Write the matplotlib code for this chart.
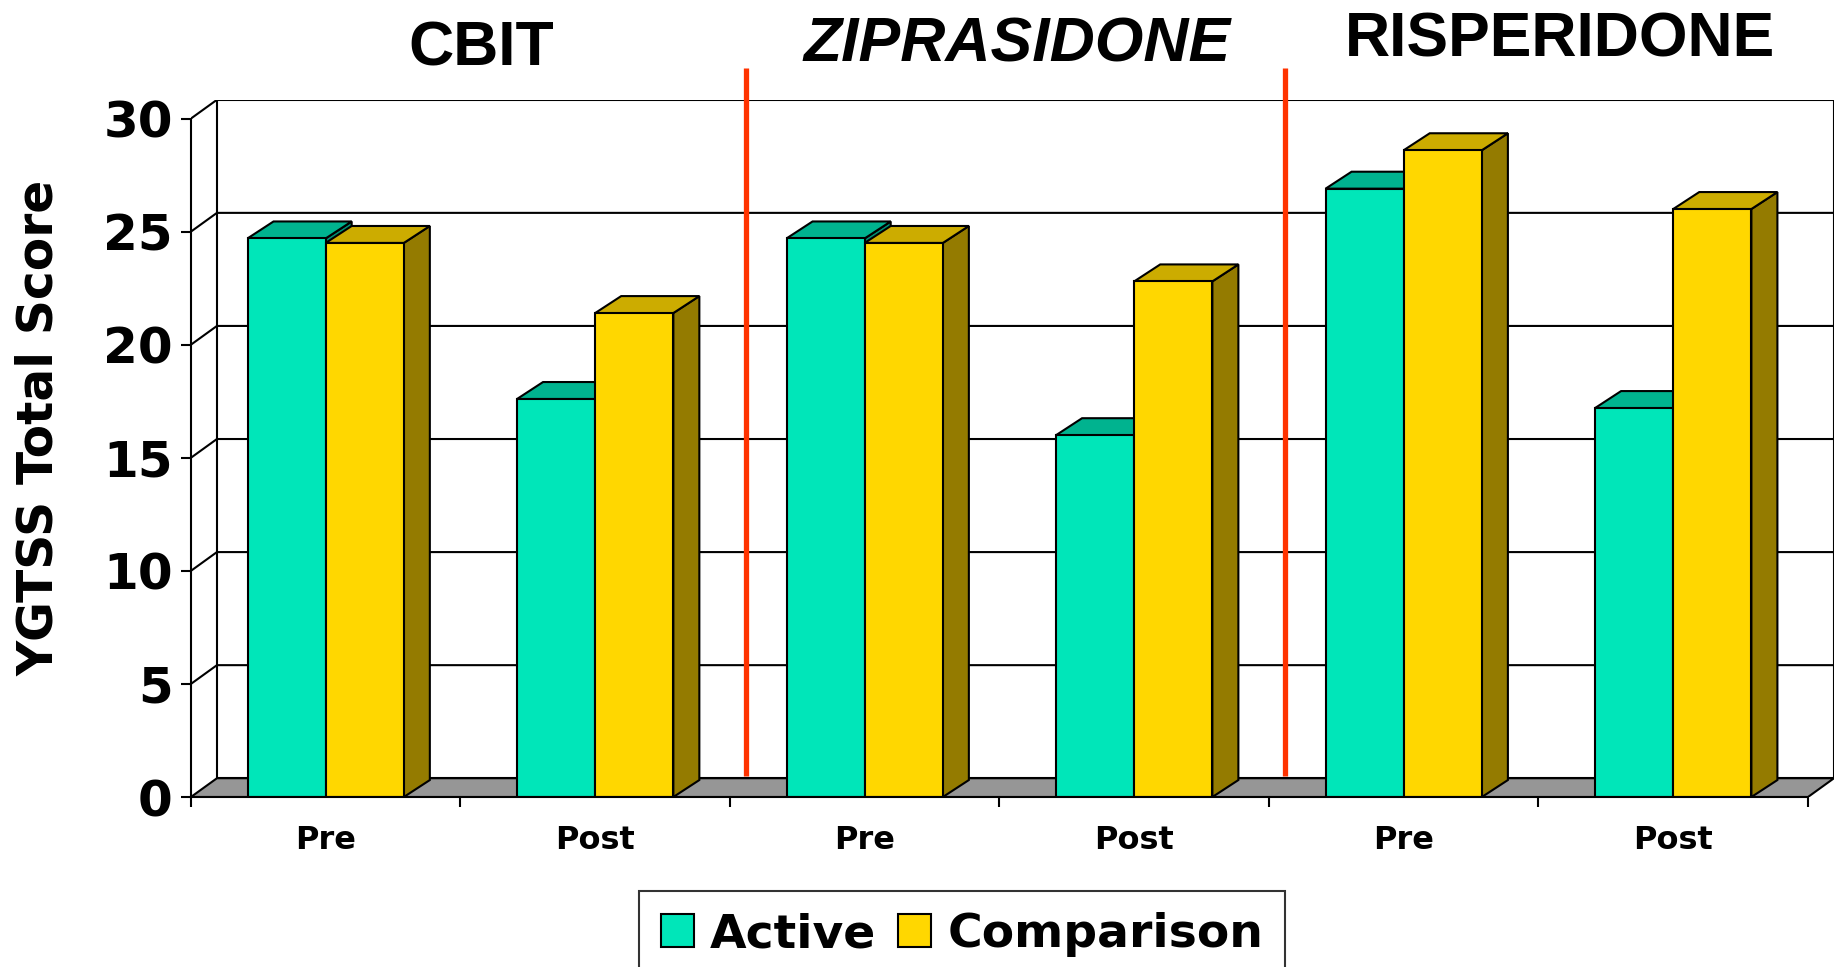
import matplotlib
matplotlib.use('Agg')
import matplotlib.pyplot as plt
from matplotlib.patches import Polygon, Rectangle, Patch

# YGTSS total scores, before and after treatment
phases = ['Pre', 'Post', 'Pre', 'Post', 'Pre', 'Post']
studies = ['CBIT', 'ZIPRASIDONE', 'RISPERIDONE']
active = [24.7, 17.6, 24.7, 16.0, 26.9, 17.2]
comparison = [24.5, 21.4, 24.5, 22.8, 28.6, 26.0]
yticks = [0, 5, 10, 15, 20, 25, 30]

# colours: front, top, side
ACTIVE = ('#00E6B9', '#00B38F', '#008F72')
COMPARE = ('#FFD700', '#CCAC00', '#947B00')
FLOOR = '#969696'
RED = '#FF3300'

DX = 0.0965   # depth of the boxes in category units
DY = 0.75     # depth of the boxes in score units
WALL_DY = 0.83
W = 0.29      # bar width
LW = 1.5

plt.rcParams['font.family'] = 'DejaVu Sans'
plt.rcParams['font.weight'] = 'bold'

fig = plt.figure(figsize=(18.34, 9.67), dpi=100)
ax = fig.add_axes([0.1041, 0.1758, 0.8959, 0.7210])
n = len(phases)
ax.set_xlim(-0.5, n - 0.5 + DX)
ax.set_ylim(0, 30 + WALL_DY)
ax.set_facecolor('none')

# back wall, left wall and floor
ax.add_patch(Rectangle((-0.5 + DX, WALL_DY), n, 30, fc='white', ec='black', lw=LW, zorder=0))
ax.add_patch(Polygon([(-0.5, 0), (n - 0.5, 0), (n - 0.5 + DX, WALL_DY), (-0.5 + DX, WALL_DY)],
                     closed=True, fc=FLOOR, ec='black', lw=LW, zorder=1))
for v in yticks[1:]:
    ax.plot([-0.5, -0.5 + DX, n - 0.5 + DX], [v, v + WALL_DY, v + WALL_DY],
            color='black', lw=LW, zorder=1, solid_joinstyle='miter')

# separators between the studies
for b in [1.5, 3.5]:
    ax.plot([b + 0.061, b + 0.061], [WALL_DY + 0.1, 32.25], color=RED, lw=3.8,
            zorder=2, clip_on=False, solid_capstyle='butt')


def column(x0, h, colors):
    front, top, side = colors
    x1 = x0 + W
    ax.add_patch(Polygon([(x1, 0), (x1 + DX, DY), (x1 + DX, h + DY), (x1, h)],
                         closed=True, fc=side, ec='black', lw=LW, zorder=3))
    ax.add_patch(Polygon([(x0, h), (x0 + DX, h + DY), (x1 + DX, h + DY), (x1, h)],
                         closed=True, fc=top, ec='black', lw=LW, zorder=3))
    ax.bar(x0, h, width=W, align='edge', color=front, edgecolor='black', lw=LW, zorder=3)


for i in range(n):
    column(i - W, active[i], ACTIVE)
    column(i, comparison[i], COMPARE)

# axes
for s in ['top', 'right']:
    ax.spines[s].set_visible(False)
ax.spines['left'].set_bounds(0, 30)
ax.spines['bottom'].set_bounds(-0.5, n - 0.5)
for s in ['left', 'bottom']:
    ax.spines[s].set_linewidth(LW)
    ax.spines[s].set_zorder(4)
ax.set_yticks(yticks)
ax.set_yticklabels([str(v) for v in yticks], fontsize=36, fontweight='bold')
ax.tick_params(axis='y', length=7, width=LW, pad=6)
ax.set_xticks(range(n))
ax.set_xticklabels(phases, fontsize=23, fontweight='bold')
ax.tick_params(axis='x', which='major', length=0, pad=20)
ax.set_xticks([i - 0.5 for i in range(n + 1)], minor=True)
ax.tick_params(axis='x', which='minor', length=7, width=LW)

fig.text(0.0215, 0.558, 'YGTSS Total Score', rotation=90, ha='center', va='center',
         fontsize=35, fontweight='bold')

# study headings
title_x = [0.2625, 0.5545, 0.8505]
title_y = [0.9495, 0.953, 0.959]
styles = ['normal', 'italic', 'normal']
for name, x, y, st in zip(studies, title_x, title_y, styles):
    fig.text(x, y, name, ha='center', va='center', fontsize=45, fontweight='bold',
             fontstyle=st, family='Liberation Sans')

handles = [Patch(fc=ACTIVE[0], ec='black', lw=LW), Patch(fc=COMPARE[0], ec='black', lw=LW)]
leg = fig.legend(handles, ['Active', 'Comparison'], loc='upper center',
                 bbox_to_anchor=(0.5245, 0.0786), ncol=2, frameon=True, fancybox=False,
                 prop={'size': 34, 'weight': 'bold'}, handlelength=0.7, handleheight=0.7,
                 handletextpad=0.35, columnspacing=0.45, borderpad=0.45, borderaxespad=0)
leg.get_frame().set_edgecolor('black')
leg.get_frame().set_linewidth(LW)

fig.savefig('out.png', dpi=100)
